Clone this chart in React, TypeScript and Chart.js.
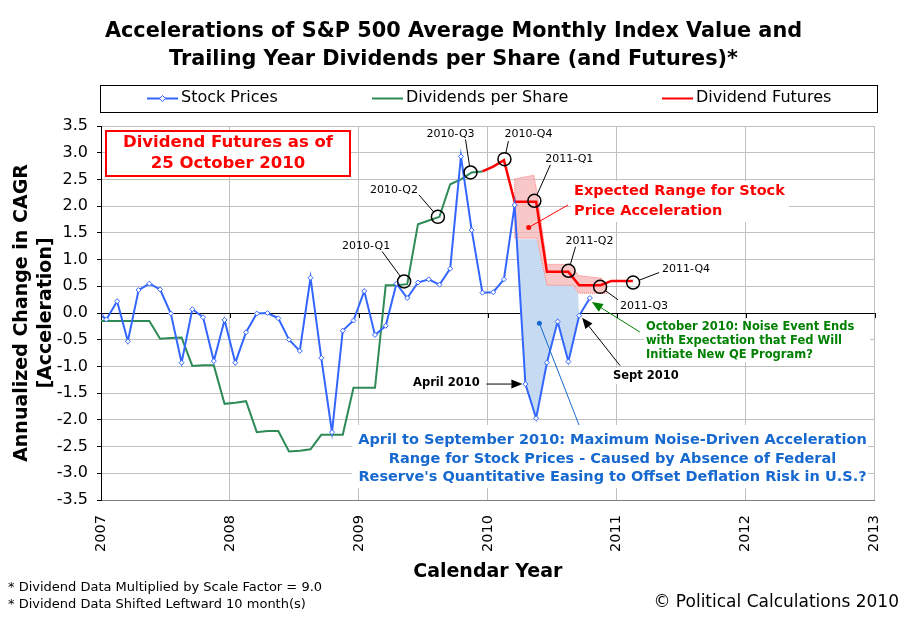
import React, { useEffect, useRef } from 'react';
import { Chart, registerables } from 'chart.js';

Chart.register(...registerables);

const FONT = '"DejaVu Sans", Verdana, sans-serif';
const BLUE = '#3366ff';
const GREEN = '#2e8b57';
const RED = '#ff0000';
const NOTE_BLUE = '#1769d0';

const titleLines = [
  'Accelerations of S&P 500 Average Monthly Index Value and',
  'Trailing Year Dividends per Share (and Futures)*',
];

const yearTicks = [2007, 2008, 2009, 2010, 2011, 2012, 2013];

// monthly values from Jan 2007, plotted at mid-month
const firstYear = 2007;
const stockLead = -0.04; // value at the very start of 2007
const stockPrices = [
  -0.12, 0.22, -0.53, 0.43, 0.55, 0.44, -0.01, -0.93, 0.07, -0.08, -0.9, -0.13,
  -0.93, -0.36, -0.01, 0.0, -0.1, -0.5, -0.71, 0.66, -0.84, -2.23, -0.33, -0.14,
  0.41, -0.41, -0.24, 0.55, 0.28, 0.57, 0.63, 0.53, 0.83, 2.93, 1.55, 0.38,
  0.39, 0.63, 2.02, -1.33, -1.97, -0.93, -0.16, -0.91, -0.05, 0.28,
];

const dividendLead = -0.15;
const dividends = [
  -0.15, -0.15, -0.15, -0.15, -0.15, -0.48, -0.47, -0.46, -0.99, -0.98, -0.98, -1.7,
  -1.68, -1.65, -2.23, -2.21, -2.21, -2.59, -2.58, -2.55, -2.28, -2.28, -2.28, -1.4,
  -1.4, -1.4, 0.52, 0.52, 0.54, 1.66, 1.73, 1.8, 2.41, 2.5, 2.63, 2.65,
];

const futuresFrom = 35; // month index where the futures line starts
const dividendFutures = [2.65, 2.74, 2.86, 2.08, 2.08, 2.08, 0.77, 0.77, 0.77, 0.52, 0.52, 0.52, 0.6, 0.6, 0.6];

const quarterLabels = ['2010-Q1', '2010-Q2', '2010-Q3', '2010-Q4', '2011-Q1', '2011-Q2', '2011-Q3', '2011-Q4'];
const quarterX = [2009.351, 2009.613, 2009.866, 2010.129, 2010.361, 2010.626, 2010.871, 2011.127];
const quarterY = [0.59, 1.8, 2.63, 2.88, 2.1, 0.79, 0.49, 0.57];

// expected range band for stock price acceleration
const rangeUpperX = [2010.209, 2010.356, 2010.381, 2010.459, 2010.64, 2010.704, 2010.884, 2010.923];
const rangeUpperY = [2.51, 2.58, 2.27, 0.91, 0.91, 0.7, 0.65, 0.43];
const rangeLowerX = [2010.209, 2010.381, 2010.459, 2010.665, 2010.704, 2010.923];
const rangeLowerY = [1.4, 1.4, 0.52, 0.52, 0.37, 0.37];

// noise range: upper edge, closed by the stock line between these months
const noiseTopX = [2010.224, 2010.381, 2010.459, 2010.665, 2010.7];
const noiseTopY = [1.38, 1.38, 0.52, 0.52, 0.37];
const noiseFrom = 39;
const noiseTo = 44;

const monthX = (i: number) => firstYear + (i + 0.5) / 12;

// label offsets from each quarter circle: text centre and leader end
const quarterNotes = [
  { dx: -38, dy: -35, lx: -22, ly: -30 },
  { dx: -44, dy: -27, lx: -19, ly: -22 },
  { dx: -20, dy: -38, lx: -5, ly: -33 },
  { dx: 24, dy: -25, lx: 4, ly: -18 },
  { dx: 35, dy: -42, lx: 16, ly: -36 },
  { dx: 21, dy: -30, lx: 7, ly: -24 },
  { dx: 44, dy: 19, lx: 18, ly: 13 },
  { dx: 53, dy: -13, lx: 26, ly: -10 },
];

function arrow(ctx: CanvasRenderingContext2D, x1: number, y1: number, x2: number, y2: number, color: string) {
  const a = Math.atan2(y2 - y1, x2 - x1);
  const hl = 11;
  const hw = 4.5;
  const bx = x2 - hl * Math.cos(a);
  const by = y2 - hl * Math.sin(a);
  ctx.strokeStyle = color;
  ctx.fillStyle = color;
  ctx.lineWidth = 1;
  ctx.beginPath();
  ctx.moveTo(x1, y1);
  ctx.lineTo(bx, by);
  ctx.stroke();
  ctx.beginPath();
  ctx.moveTo(x2, y2);
  ctx.lineTo(bx + hw * Math.sin(a), by - hw * Math.cos(a));
  ctx.lineTo(bx - hw * Math.sin(a), by + hw * Math.cos(a));
  ctx.closePath();
  ctx.fill();
}

function label(ctx: CanvasRenderingContext2D, s: string, x: number, y: number, font: string, color: string, align: CanvasTextAlign = 'left') {
  ctx.font = font;
  ctx.fillStyle = color;
  ctx.textAlign = align;
  ctx.textBaseline = 'middle';
  ctx.fillText(s, x, y);
}

const overlayPlugin = {
  id: 'overlay',
  afterDatasetsDraw(chart: any) {
    const { ctx, scales } = chart;
    const X = (v: number) => scales.x.getPixelForValue(v);
    const Y = (v: number) => scales.y.getPixelForValue(v);
    ctx.save();

    // year ticks on the zero line
    ctx.strokeStyle = '#000';
    ctx.lineWidth = 1;
    yearTicks.forEach((yr) => {
      const px = Math.round(X(yr)) + 0.5;
      ctx.beginPath();
      ctx.moveTo(px, Y(0));
      ctx.lineTo(px, Y(0) + 5);
      ctx.stroke();
    });

    // futures date box
    ctx.fillStyle = '#fff';
    ctx.fillRect(106, 131, 244, 45);
    ctx.strokeStyle = RED;
    ctx.lineWidth = 2;
    ctx.strokeRect(106, 131, 244, 45);
    label(ctx, 'Dividend Futures as of', 228, 143, `bold 16.5px ${FONT}`, RED, 'center');
    label(ctx, '25 October 2010', 228, 164, `bold 16.5px ${FONT}`, RED, 'center');

    // quarter labels with leaders
    quarterLabels.forEach((q, i) => {
      const cx = X(quarterX[i]);
      const cy = Y(quarterY[i]);
      const n = quarterNotes[i];
      const len = Math.hypot(n.lx, n.ly);
      ctx.strokeStyle = '#000';
      ctx.lineWidth = 1;
      ctx.beginPath();
      ctx.moveTo(cx + (n.lx / len) * 6.5, cy + (n.ly / len) * 6.5);
      ctx.lineTo(cx + n.lx, cy + n.ly);
      ctx.stroke();
      label(ctx, q, cx + n.dx, cy + n.dy, `11px ${FONT}`, '#000', 'center');
    });

    // expected range note
    const rx = X(2010.317);
    const ry = Y(1.6);
    ctx.fillStyle = RED;
    ctx.beginPath();
    ctx.arc(rx, ry, 2.5, 0, Math.PI * 2);
    ctx.fill();
    ctx.strokeStyle = RED;
    ctx.lineWidth = 1;
    ctx.beginPath();
    ctx.moveTo(rx, ry);
    ctx.lineTo(568, 205);
    ctx.stroke();
    ctx.fillStyle = '#fff';
    ctx.fillRect(571, 181, 218, 41);
    label(ctx, 'Expected Range for Stock', 574, 191, `bold 14.5px ${FONT}`, RED);
    label(ctx, 'Price Acceleration', 574, 211, `bold 14.5px ${FONT}`, RED);

    // noise range note
    const bx = X(2010.4);
    const by = Y(-0.19);
    ctx.fillStyle = NOTE_BLUE;
    ctx.beginPath();
    ctx.arc(bx, by, 2.5, 0, Math.PI * 2);
    ctx.fill();
    ctx.strokeStyle = NOTE_BLUE;
    ctx.beginPath();
    ctx.moveTo(bx, by);
    ctx.lineTo(579, 425);
    ctx.stroke();
    ctx.fillStyle = '#fff';
    ctx.fillRect(352, 425, 516, 63);
    const blueFont = `bold 14.5px ${FONT}`;
    label(ctx, 'April to September 2010: Maximum Noise-Driven Acceleration', 612.5, 440, blueFont, NOTE_BLUE, 'center');
    label(ctx, 'Range for Stock Prices - Caused by Absence of Federal', 612.5, 459, blueFont, NOTE_BLUE, 'center');
    label(ctx, "Reserve's Quantitative Easing to Offset Deflation Risk in U.S.?", 612.5, 477, blueFont, NOTE_BLUE, 'center');

    // month pointers
    const pt = (i: number) => [X(monthX(i)), Y(stockPrices[i])];
    const [ax, ay] = pt(39);
    arrow(ctx, ax - 39, ay, ax - 3, ay, '#000');
    label(ctx, 'April 2010', 413, ay - 1, `bold 11.5px ${FONT}`, '#000');

    const [sx, sy] = pt(44);
    arrow(ctx, sx + 41, sy + 50, sx + 3, sy + 2, '#000');
    ctx.fillStyle = '#fff';
    ctx.fillRect(611, 368, 70, 16);
    label(ctx, 'Sept 2010', 613, 376, `bold 11.5px ${FONT}`, '#000');

    const [ox, oy] = pt(45);
    arrow(ctx, ox + 50, oy + 34, ox + 2, oy + 4, '#008000');
    ctx.fillStyle = '#fff';
    ctx.fillRect(644, 319, 226, 43);
    const greenFont = `bold 11.5px ${FONT}`;
    label(ctx, 'October 2010: Noise Event Ends', 646, 327, greenFont, '#008000');
    label(ctx, 'with Expectation that Fed Will', 646, 341, greenFont, '#008000');
    label(ctx, 'Initiate New QE Program?', 646, 355, greenFont, '#008000');

    ctx.restore();
  },
  afterDraw(chart: any) {
    const { ctx } = chart;
    ctx.save();
    label(ctx, titleLines[0], 453.5, 32, `bold 20.8px ${FONT}`, '#000', 'center');
    label(ctx, titleLines[1], 453.5, 60, `bold 20.8px ${FONT}`, '#000', 'center');

    // legend
    ctx.strokeStyle = '#000';
    ctx.lineWidth = 1;
    ctx.strokeRect(100.5, 85.5, 777, 27);
    const sets = chart.data.datasets;
    const items = [
      { ds: sets[1], x: 147, marker: true },
      { ds: sets[3], x: 372, marker: false },
      { ds: sets[2], x: 662, marker: false },
    ];
    items.forEach((it) => {
      ctx.strokeStyle = it.ds.borderColor;
      ctx.lineWidth = 2;
      ctx.beginPath();
      ctx.moveTo(it.x, 98.5);
      ctx.lineTo(it.x + 31, 98.5);
      ctx.stroke();
      if (it.marker) {
        const mx = it.x + 15.5;
        ctx.fillStyle = '#fff';
        ctx.lineWidth = 1;
        ctx.beginPath();
        ctx.moveTo(mx, 95.5);
        ctx.lineTo(mx + 3, 98.5);
        ctx.lineTo(mx, 101.5);
        ctx.lineTo(mx - 3, 98.5);
        ctx.closePath();
        ctx.fill();
        ctx.stroke();
      }
      label(ctx, it.ds.label, it.x + 34, 98, `16px ${FONT}`, '#000');
    });

    label(ctx, '* Dividend Data Multiplied by Scale Factor = 9.0', 8, 588, `13px ${FONT}`, '#000');
    label(ctx, '* Dividend Data Shifted Leftward 10 month(s)', 8, 605, `13px ${FONT}`, '#000');
    label(ctx, '\u00a9 Political Calculations 2010', 899, 603, `17px ${FONT}`, '#000', 'right');
    ctx.restore();
  },
};

export default function App() {
  const canvasRef = useRef<HTMLCanvasElement>(null);
  const chartRef = useRef<Chart | null>(null);

  useEffect(() => {
    document.body.style.margin = '0';
    if (!canvasRef.current) return;
    if (chartRef.current) chartRef.current.destroy();
    const ctx = canvasRef.current.getContext('2d');
    if (!ctx) return;

    const stockData = [{ x: firstYear, y: stockLead }, ...stockPrices.map((v, i) => ({ x: monthX(i), y: v }))];
    const dividendData = [{ x: firstYear, y: dividendLead }, ...dividends.map((v, i) => ({ x: monthX(i), y: v }))];
    const futuresData = dividendFutures.map((v, i) => ({ x: monthX(futuresFrom + i), y: v }));
    const quarterData = quarterX.map((x, i) => ({ x, y: quarterY[i] }));
    const upper = rangeUpperX.map((x, i) => ({ x, y: rangeUpperY[i] }));
    const lower = rangeLowerX.map((x, i) => ({ x, y: rangeLowerY[i] })).reverse();
    const bandData = [...upper, ...lower, upper[0]];
    const noiseData = [
      ...noiseTopX.map((x, i) => ({ x, y: noiseTopY[i] })),
      ...stockPrices.slice(noiseFrom, noiseTo + 1).map((v, i) => ({ x: monthX(noiseFrom + i), y: v })).reverse(),
    ];

    chartRef.current = new Chart(ctx, {
      type: 'line',
      data: {
        datasets: [
          {
            label: 'Quarters',
            data: quarterData,
            showLine: false,
            pointStyle: 'circle',
            pointRadius: 6.5,
            pointBackgroundColor: 'rgba(0,0,0,0)',
            pointBorderColor: '#000',
            pointBorderWidth: 1.5,
          },
          {
            label: 'Stock Prices',
            data: stockData,
            borderColor: BLUE,
            borderWidth: 2,
            pointStyle: 'rectRot',
            pointRadius: 2.5,
            pointBackgroundColor: '#fff',
            pointBorderColor: BLUE,
            pointBorderWidth: 1,
            tension: 0,
          },
          {
            label: 'Dividend Futures',
            data: futuresData,
            borderColor: RED,
            borderWidth: 2.5,
            pointRadius: 0,
            tension: 0,
          },
          {
            label: 'Dividends per Share',
            data: dividendData,
            borderColor: GREEN,
            borderWidth: 2,
            pointRadius: 0,
            tension: 0,
          },
          {
            label: 'Expected Range',
            data: bandData,
            borderColor: 'rgba(255,90,90,0.8)',
            borderWidth: 1,
            borderDash: [1, 1],
            backgroundColor: 'rgba(246,180,180,0.75)',
            fill: 'shape',
            pointRadius: 0,
            tension: 0,
          },
          {
            label: 'Noise Range',
            data: noiseData,
            borderWidth: 0,
            borderColor: 'rgba(0,0,0,0)',
            backgroundColor: '#c6dbf2',
            fill: 'shape',
            pointRadius: 0,
            tension: 0,
          },
        ],
      },
      options: {
        animation: false,
        responsive: true,
        maintainAspectRatio: false,
        events: [],
        layout: { padding: { left: 0, right: 30, top: 126, bottom: 35 } },
        plugins: {
          legend: { display: false },
          title: { display: false },
          tooltip: { enabled: false },
        },
        scales: {
          x: {
            type: 'linear',
            min: 2007,
            max: 2013,
            afterFit: (s: any) => {
              s.height = 84;
            },
            ticks: {
              stepSize: 1,
              autoSkip: false,
              minRotation: 90,
              maxRotation: 90,
              padding: 15,
              color: '#000',
              font: { family: FONT, size: 14.5 },
              callback: (v: any) => String(v),
            },
            grid: { color: '#c0c0c0', drawTicks: false },
            border: { color: '#808080' },
            title: {
              display: true,
              text: 'Calendar Year',
              color: '#000',
              font: { family: FONT, size: 19, weight: 'bold', lineHeight: 1.3 },
              padding: { top: 0, bottom: 0 },
            },
          },
          y: {
            min: -3.5,
            max: 3.5,
            afterFit: (s: any) => {
              s.width = 101;
            },
            ticks: {
              stepSize: 0.5,
              padding: 9,
              color: '#000',
              font: { family: FONT, size: 16 },
              callback: (v: any) => Number(v).toFixed(1),
            },
            grid: {
              color: (c: any) => (c.tick && c.tick.value === 0 ? '#000' : '#c0c0c0'),
              tickColor: '#000',
              tickLength: 4,
            },
            border: { color: '#000' },
            title: {
              display: true,
              text: ['Annualized Change in CAGR', '[Acceleration]'],
              color: '#000',
              font: { family: FONT, size: 19, weight: 'bold', lineHeight: 1.3 },
              padding: { top: 9.5, bottom: 0 },
            },
          },
        },
      },
      plugins: [overlayPlugin],
    });

    return () => {
      if (chartRef.current) {
        chartRef.current.destroy();
        chartRef.current = null;
      }
    };
  }, []);

  return (
    <div style={{ width: 907, height: 619, position: 'relative', background: '#fff' }}>
      <canvas ref={canvasRef}></canvas>
    </div>
  );
}
